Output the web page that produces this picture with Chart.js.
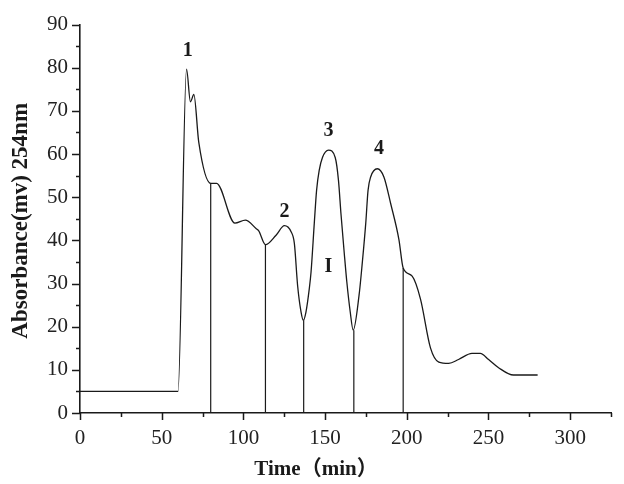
<!DOCTYPE html>
<html>
<head>
<meta charset="utf-8">
<script src="https://cdn.jsdelivr.net/npm/chart.js@4"></script>
<style>
  body { margin: 0; background: #fff; }
  #chromatogram { display: block; }
</style>
</head>
<body>
<canvas id="chromatogram" width="624" height="484"></canvas>
<script>
// elution profile (time in min, absorbance in mv)
const timeMin = [0, 60, 65.2, 67.6, 69.7, 72.7, 80, 83.6, 94.8, 101.2, 107.9, 109.4, 113.5,
  120, 125.1, 129.2, 131.2, 133.2, 135.3, 136.7, 138.3, 140.3, 141.4, 143.4, 144.8, 146.4,
  148.4, 152.1, 156.2, 158.2, 159.7, 161.7, 163.3, 165.4, 167.2, 170.8, 172.8, 174.9, 176.3,
  177.9, 182, 186, 190.1, 195.2, 197.8, 203.3, 208.4, 214.5, 219.6, 225.7, 231.7, 239.9,
  245, 250.1, 256.2, 265.3, 280.1];
const absorbance = [5, 5, 79.7, 72.1, 73.8, 62.7, 53.2, 53.2, 44, 44.7, 42.7, 42.2, 39,
  41.2, 43.4, 42, 39.3, 29.5, 23.4, 21.5, 23.4, 28.7, 32.6, 44, 51.6, 56.2,
  59.2, 60.9, 59.2, 53.9, 46.3, 37.2, 30.4, 23.4, 19.2, 27.3, 34.9, 44, 51.6,
  54.7, 56.6, 54.7, 48.6, 40.2, 33.6, 31.7, 26.4, 15.1, 11.8, 11.5, 12.4, 13.8,
  13.8, 12.4, 10.5, 8.8, 8.8];

// fraction cut lines
const cutTimes = [80, 113.5, 136.9, 167.6, 197.8];
const cutHeights = [53.2, 39, 21.5, 19.2, 33.6];

// peak labels
const peakNames = ['1', '2', '3', '4', 'I'];
const peakNameX = [66, 125.1, 152.1, 183, 152.1];
const peakNameY = [83.9, 46.7, 65.3, 61.1, 33.8];

const xTicks = { min: 0, max: 325, step: 25, labelEvery: 50 };
const yTicks = { min: 0, max: 90, step: 5, labelEvery: 10 };

const ink = '#1a1a1a';
const serif = "'Liberation Serif', 'Times New Roman', serif";

const profilePoints = timeMin.map((t, i) => ({ x: t, y: absorbance[i] }));

const datasets = [{
  data: profilePoints,
  borderColor: ink,
  borderWidth: 1.3,
  pointRadius: 0,
  showLine: true,
  cubicInterpolationMode: 'monotone'
}];
cutTimes.forEach((t, i) => {
  datasets.push({
    data: [{ x: t, y: 0 }, { x: t, y: cutHeights[i] }],
    borderColor: ink,
    borderWidth: 1.2,
    pointRadius: 0,
    showLine: true
  });
});

// minor/major ticks, axis titles and peak numbers
const decorations = {
  id: 'decorations',
  afterDraw(chart) {
    const ctx = chart.ctx;
    const xs = chart.scales.x;
    const ys = chart.scales.y;
    const area = chart.chartArea;
    ctx.save();
    ctx.strokeStyle = ink;
    ctx.lineWidth = 1.5;
    ctx.beginPath();
    for (let v = yTicks.min; v <= yTicks.max; v += yTicks.step) {
      const len = v % yTicks.labelEvery === 0 ? 8 : 4;
      const py = Math.round(ys.getPixelForValue(v)) + 0.5;
      ctx.moveTo(area.left - len, py);
      ctx.lineTo(area.left, py);
    }
    for (let v = xTicks.min; v <= xTicks.max; v += xTicks.step) {
      const len = v % xTicks.labelEvery === 0 ? 7 : 4;
      const px = Math.round(xs.getPixelForValue(v)) + 0.5;
      ctx.moveTo(px, area.bottom);
      ctx.lineTo(px, area.bottom + len);
    }
    ctx.stroke();

    ctx.fillStyle = ink;
    ctx.textAlign = 'center';
    ctx.textBaseline = 'middle';
    ctx.font = 'bold 20px ' + serif;
    peakNames.forEach((name, i) => {
      ctx.fillText(name, xs.getPixelForValue(peakNameX[i]), ys.getPixelForValue(peakNameY[i]));
    });

    ctx.font = "bold 21px " + serif + ", 'Noto Sans CJK SC'";
    ctx.textBaseline = 'alphabetic';
    ctx.fillText('Time（min）', 316, 475);

    ctx.translate(27, (area.top + area.bottom) / 2 + 2);
    ctx.rotate(-Math.PI / 2);
    ctx.font = 'bold 23px ' + serif;
    ctx.fillText('Absorbance(mv) 254nm', 0, 0);
    ctx.restore();
  }
};

new Chart(document.getElementById('chromatogram'), {
  type: 'scatter',
  data: { datasets },
  options: {
    responsive: false,
    animation: false,
    devicePixelRatio: 1,
    layout: { padding: { top: 18, right: 11, left: 0, bottom: 0 } },
    plugins: { legend: { display: false }, tooltip: { enabled: false } },
    scales: {
      x: {
        type: 'linear',
        min: xTicks.min,
        max: xTicks.max,
        grid: { display: false, drawTicks: false },
        border: { display: true, color: ink, width: 1.6 },
        ticks: {
          stepSize: xTicks.step,
          autoSkip: false,
          maxRotation: 0,
          padding: 13,
          color: '#222',
          font: { family: serif, size: 21 },
          callback: v => (v % xTicks.labelEvery === 0 ? v : '')
        },
        afterFit: s => { s.height = 71; }
      },
      y: {
        min: yTicks.min,
        max: yTicks.max,
        grid: { display: false, drawTicks: false },
        border: { display: true, color: ink, width: 1.6 },
        ticks: {
          stepSize: yTicks.step,
          autoSkip: false,
          padding: 12,
          color: '#222',
          font: { family: serif, size: 21 },
          callback: v => (v % yTicks.labelEvery === 0 ? v : '')
        },
        afterFit: s => { s.width = 80; }
      }
    }
  },
  plugins: [decorations]
});
</script>
</body>
</html>
